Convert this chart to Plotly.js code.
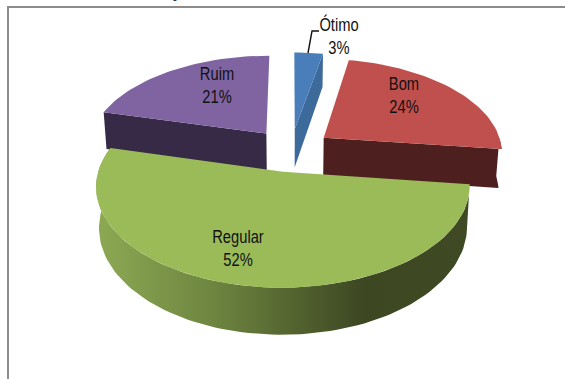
<!DOCTYPE html>
<html>
<head>
<meta charset="utf-8">
<script src="https://cdn.plot.ly/plotly-3.0.1.min.js"></script>
<style>html,body{margin:0;padding:0;background:#fff;overflow:hidden}</style>
</head>
<body>
<div id="chart" style="width:565px;height:379px"></div>
<script>
// Survey results
const categories = ['Ótimo', 'Bom', 'Regular', 'Ruim'];
const percents = [3, 24, 52, 21];

// Face colours per slice
const topColors = ['#4A7EBB', '#C0504D', '#9BBB59', '#8064A2'];
const sideColors = ['#3C6A9B', '#4D1F1E', '#3F4A24', '#372A47'];

// Label anchors on the plot scale
const labelX = [339, 404, 238, 217];
const labelY = [38, 97, 250, 87];

// Projection of the tilted, exploded pie onto the plot plane
const view = {cx: 291, cy: 150, a: 179, b: 93, p: 0.14, depth: 39, shrink: 0.985, explode: 0.23};

function project(X, Z, bottom) {
  const s = 1 / (1 + view.p * Z);
  const k = bottom ? view.shrink : 1;
  return [view.cx + view.a * X * s * k, view.cy - view.b * Z * s + (bottom ? view.depth * s : 0)];
}
const rad = d => d * Math.PI / 180;

// Angular span of each slice, clockwise from twelve o'clock
const total = percents.reduce((u, v) => u + v, 0);
let running = 0;
const spans = percents.map(v => {
  const start = running / total * 360;
  running += v;
  return [start, running / total * 360];
});
const offsets = spans.map(([u, v]) => {
  const m = rad((u + v) / 2);
  return [view.explode * Math.sin(m), view.explode * Math.cos(m)];
});

function rim(i, from, to, bottom) {
  const pts = [], n = Math.max(2, Math.ceil(Math.abs(to - from) / 2));
  for (let k = 0; k <= n; k++) {
    const t = rad(from + (to - from) * k / n);
    pts.push(project(offsets[i][0] + Math.sin(t), offsets[i][1] + Math.cos(t), bottom));
  }
  return pts;
}
const apex = (i, bottom) => project(offsets[i][0], offsets[i][1], bottom);

function polygon(pts, color, extra) {
  const c = pts.concat([pts[0]]);
  return Object.assign({
    type: 'scatter', mode: 'lines', x: c.map(q => q[0]), y: c.map(q => q[1]),
    fill: 'toself', fillcolor: color, line: {width: 0, color: color}, hoverinfo: 'skip', showlegend: false
  }, extra || {});
}

function topFace(i) {
  return polygon([apex(i, false)].concat(rim(i, spans[i][0], spans[i][1], false)), topColors[i]);
}
// Radial cut face along one edge of a slice
function cutFace(i, angle) {
  const t = rim(i, angle, angle, false)[0], b = rim(i, angle, angle, true)[0];
  return polygon([apex(i, false), t, b, apex(i, true)], sideColors[i]);
}

const traces = [];
// Back slices first, the large front slice last
traces.push(cutFace(3, spans[3][0]), topFace(3));
traces.push(cutFace(0, spans[0][1]), topFace(0));
traces.push(polygon(
  [apex(1, false)].concat(rim(1, spans[1][1], 90, false)).concat(rim(1, 90, spans[1][1], true)).concat([apex(1, true)]),
  sideColors[1]), topFace(1));

// Outer wall of the front slice, shaded from left to right
const wall = rim(2, spans[2][0], spans[2][1], false).concat(rim(2, spans[2][1], spans[2][0], true));
traces.push(polygon(wall, '#6f8840', {
  fillgradient: {
    type: 'horizontal', start: 100, stop: 470,
    colorscale: [[0, '#8CA853'], [0.3, '#6E8640'], [0.71, '#3D4722'], [1, '#3F4A24']]
  }
}));
traces.push(topFace(2));

// Leader line from the smallest slice to its label
traces.push({
  type: 'scatter', mode: 'lines', x: [308, 312, 319], y: [53, 31, 31],
  line: {color: '#111', width: 1.4}, hoverinfo: 'skip', showlegend: false
});

// Category and share labels
traces.push({
  type: 'scatter', mode: 'text', x: labelX, y: labelY,
  text: categories.map((c, i) => c + '<br>' + percents[i] + '%'),
  textposition: 'middle center',
  textfont: {family: '"Liberation Sans", sans-serif', size: 17.5, color: '#111'},
  hoverinfo: 'skip', showlegend: false
});

const hidden = {visible: false, fixedrange: true};
const layout = {
  width: 565, height: 379, margin: {l: 0, r: 0, t: 0, b: 0},
  paper_bgcolor: '#fff', plot_bgcolor: '#fff', showlegend: false,
  xaxis: Object.assign({range: [0, 565]}, hidden),
  yaxis: Object.assign({range: [379, 0]}, hidden),
  shapes: [
    {type: 'line', xref: 'x', yref: 'y', x0: 8, x1: 565, y0: 7, y1: 7, line: {color: '#8c8c8c', width: 2}},
    {type: 'line', xref: 'x', yref: 'y', x0: 8, x1: 8, y0: 6, y1: 379, line: {color: '#8c8c8c', width: 2}}
  ],
  annotations: [{
    xref: 'paper', yref: 'paper', x: 0.014, y: 1, xanchor: 'left', yanchor: 'bottom', yshift: -4,
    showarrow: false, text: '<b>GRÁFICO 1 – Avaliação dos resultados.</b>',
    font: {family: '"Liberation Sans", sans-serif', size: 17, color: '#333'}
  }]
};
Plotly.newPlot('chart', traces, layout, {displayModeBar: false, staticPlot: true}).then(() => {
  // Narrow the slice labels horizontally around their own anchors
  document.querySelectorAll('#chart .textpoint text').forEach(t => {
    const x = t.getAttribute('x');
    const old = t.getAttribute('transform') || '';
    t.setAttribute('transform', `${old} translate(${x},0) scale(0.84,1) translate(${-x},0)`);
  });
});
</script>
</body>
</html>
